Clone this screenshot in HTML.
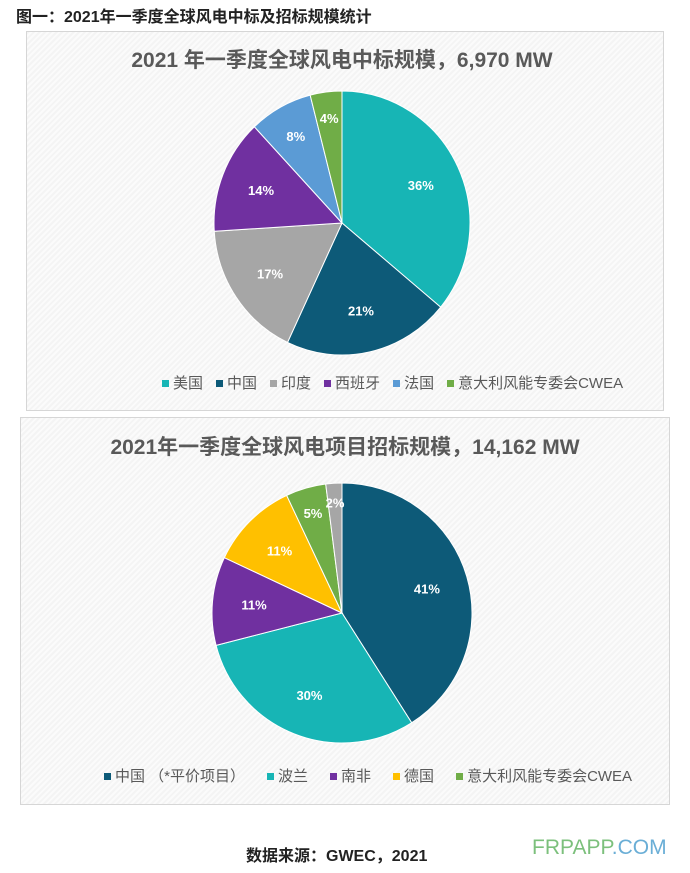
<!DOCTYPE html>
<html><head><meta charset="utf-8">
<style>
body{margin:0;width:690px;height:873px;background:#fff;font-family:"Liberation Sans","Noto Sans CJK SC",sans-serif;position:relative;overflow:hidden}
.t{position:absolute;white-space:nowrap}
.box{position:absolute;border:1px solid #d6d6d6;background:repeating-linear-gradient(135deg,#f4f4f4 0 2px,#fbfbfb 2px 4px)}
.lg{position:absolute;font-size:15px;color:#595959;white-space:nowrap}
.lg span{margin-right:13px}
.lg i{display:inline-block;width:7px;height:7px;margin:0 4px 2px 0;vertical-align:middle}
.b span{margin-right:22px}
</style></head><body>
<div class="t" style="left:16px;top:3px;font-size:16px;font-weight:bold;color:#222">图一：2021年一季度全球风电中标及招标规模统计</div>
<div class="box" style="left:26px;top:31px;width:636px;height:378px"></div>
<div class="box" style="left:20px;top:417px;width:648px;height:386px"></div>
<div class="t" style="left:0;width:684px;text-align:center;top:44px;font-size:21px;font-weight:bold;color:#595959">2021 年一季度全球风电中标规模，6,970 MW</div>
<div class="t" style="left:0;width:690px;text-align:center;top:431px;font-size:21px;font-weight:bold;color:#595959">2021年一季度全球风电项目招标规模，14,162 MW</div>
<svg id="s" width="690" height="873" style="position:absolute;left:0;top:0"></svg>
<div class="lg" style="left:162px;top:372px"><span><i style="background:#17b5b5"></i>美国</span><span><i style="background:#0d5a78"></i>中国</span><span><i style="background:#a6a6a6"></i>印度</span><span><i style="background:#7030a0"></i>西班牙</span><span><i style="background:#5b9bd5"></i>法国</span><span style="margin:0"><i style="background:#70ad47"></i>意大利风能专委会CWEA</span></div>
<div class="lg b" style="left:104px;top:765px"><span><i style="background:#0d5a78"></i>中国 （*平价项目）</span><span><i style="background:#17b5b5"></i>波兰</span><span><i style="background:#7030a0"></i>南非</span><span><i style="background:#ffc000"></i>德国</span><span style="margin:0"><i style="background:#70ad47"></i>意大利风能专委会CWEA</span></div>
<div class="t" style="left:246px;top:842px;font-size:16px;font-weight:bold;color:#222">数据来源：GWEC，2021</div>
<div class="t" style="left:532px;top:836px;font-size:21px;color:#7cc07c">FRPAPP<span style="color:#6aaed6">.COM</span></div>
<script>
var s=document.getElementById('s');
function pie(cx,cy,rx,ry,d){var a=0,h='';d.forEach(function(p){var a0=a,a1=a+p[0]/100*2*Math.PI;a=a1;
var x0=cx+rx*Math.sin(a0),y0=cy-ry*Math.cos(a0),x1=cx+rx*Math.sin(a1),y1=cy-ry*Math.cos(a1);
h+='<path d="M'+cx+' '+cy+'L'+x0+' '+y0+'A'+rx+' '+ry+' 0 '+((a1-a0)>Math.PI?1:0)+' 1 '+x1+' '+y1+'Z" fill="'+p[1]+'" stroke="#fff" stroke-width="1"/>';
var m=(a0+a1)/2,f=p[3]||0.68;h+='<text x="'+(cx+rx*f*Math.sin(m))+'" y="'+(cy-ry*f*Math.cos(m)+5)+'" text-anchor="middle" font-size="13" font-weight="bold" fill="#fff" font-family="Liberation Sans">'+p[2]+'</text>';});return h;}
s.innerHTML=pie(342,223,128,132,[[36,'#17b5b5','36%'],[21,'#0d5a78','21%'],[17,'#a6a6a6','17%'],[14,'#7030a0','14%'],[8,'#5b9bd5','8%',0.75],[4,'#70ad47','4%',0.8]])
+pie(342,613,130,130,[[41,'#0d5a78','41%'],[30,'#17b5b5','30%'],[11,'#7030a0','11%'],[11,'#ffc000','11%'],[5,'#70ad47','5%',0.8],[2,'#a6a6a6','2%',0.85]]);
</script>
</body></html>
